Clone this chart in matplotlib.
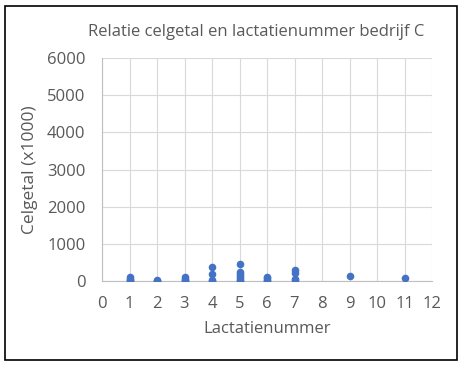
import matplotlib
matplotlib.use("Agg")
import matplotlib.pyplot as plt
from matplotlib.patches import Rectangle

lactatie = [1, 1, 1, 1, 2, 2, 2, 3, 3, 3, 3, 4, 4, 4, 4,
            5, 5, 5, 5, 5, 5, 5, 6, 6, 6, 6, 7, 7, 7, 7, 9, 11]
celgetal = [110, 60, 20, 0, 30, 10, 0, 110, 60, 20, 0, 380, 190, 40, 0,
            450, 250, 200, 130, 80, 30, 0, 110, 70, 30, 0, 290, 220, 60, 20, 135, 75]

x_ticks = list(range(0, 13))
y_ticks = [0, 1000, 2000, 3000, 4000, 5000, 6000]

plt.rcParams['font.family'] = ['Open Sans', 'DejaVu Sans']
txt = '#595959'

fig = plt.figure(figsize=(4.63, 3.70), dpi=100)
ax = fig.add_axes([102 / 463, 1 - 281 / 370, 330 / 463, 223 / 370])

ax.scatter(lactatie, celgetal, s=30, color='#4472C4', zorder=3, linewidths=0)
ax.set_xlim(0, 12)
ax.set_ylim(0, 6000)
ax.set_xticks(x_ticks)
ax.set_yticks(y_ticks)
ax.grid(True, color='#D9D9D9', linewidth=0.8, zorder=0)
for s in ['top', 'right']:
    ax.spines[s].set_visible(False)
for s in ['left', 'bottom']:
    ax.spines[s].set_color('#BFBFBF')
    ax.spines[s].set_linewidth(0.8)
ax.tick_params(length=0, labelsize=12, colors=txt)
ax.tick_params(axis='x', pad=11)
ax.tick_params(axis='y', pad=12)
ax.set_xlabel('Lactatienummer', fontsize=12, color=txt)
ax.set_ylabel('Celgetal (x1000)', fontsize=12.5, color=txt)
ax.xaxis.set_label_coords(0.5, (281 - 321) / 223)
ax.yaxis.set_label_coords((38 - 102) / 330, 0.5)
fig.text(0.553, 1 - 32 / 370, 'Relatie celgetal en lactatienummer bedrijf C',
         ha='center', va='center', fontsize=12, color=txt)

fig.patches.append(Rectangle((5 / 463, 1 - 360 / 370), 452 / 463, 354 / 370,
                             transform=fig.transFigure, fill=False,
                             edgecolor='black', linewidth=1.2))
fig.savefig('out.png', dpi=100)
